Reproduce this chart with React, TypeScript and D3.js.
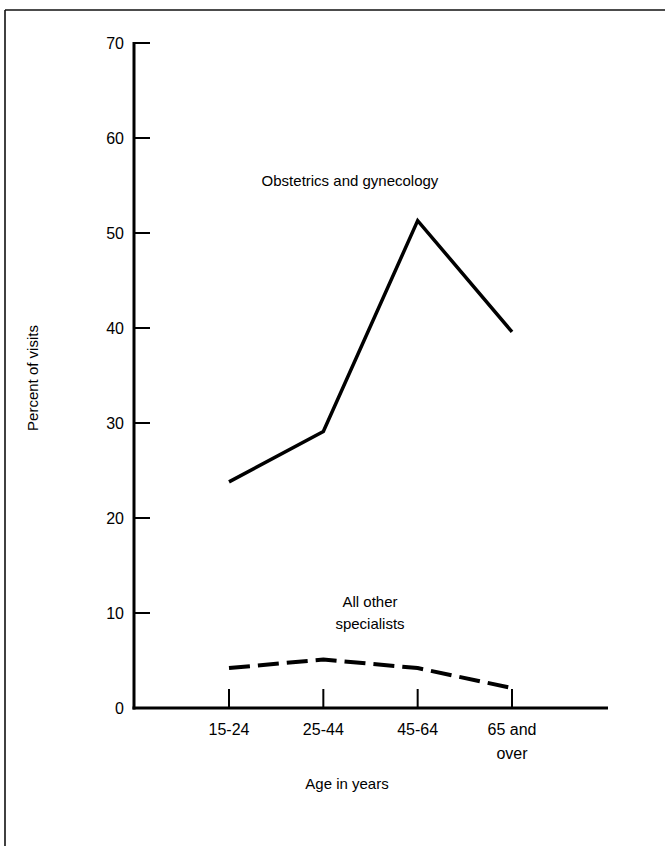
import React, { useEffect, useRef } from "react";
import * as d3 from "d3";

const categories = ["15-24", "25-44", "45-64", "65 and over"];
const categoryLines = [["15-24"], ["25-44"], ["45-64"], ["65 and", "over"]];
const obstetrics = [23.8, 29.1, 51.3, 39.6];
const otherSpecialists = [4.2, 5.1, 4.2, 2.1];
const yTicks = [0, 10, 20, 30, 40, 50, 60, 70];

const W = 665;
const H = 846;
const FONT = "'Liberation Sans', Arial, Helvetica, sans-serif";

export default function App() {
  const ref = useRef<SVGSVGElement>(null);

  useEffect(() => {
    const svg = d3.select(ref.current);
    svg.selectAll("*").remove();

    const x = d3.scalePoint<string>().domain(categories).range([229, 512]);
    const y = d3.scaleLinear().domain([0, 70]).range([708, 43]);
    const axisX0 = 134;

    // frame
    svg.append("line").attr("x1", 5).attr("x2", W).attr("y1", 10).attr("y2", 10)
      .attr("stroke", "#111").attr("stroke-width", 1.6);
    svg.append("line").attr("x1", 5).attr("x2", 5).attr("y1", 10).attr("y2", H)
      .attr("stroke", "#111").attr("stroke-width", 1.6);

    // y axis
    svg.append("line").attr("x1", axisX0).attr("x2", axisX0)
      .attr("y1", y(70) - 1).attr("y2", y(0) + 1.5)
      .attr("stroke", "#000").attr("stroke-width", 3);
    const yt = svg.append("g");
    yTicks.forEach((t) => {
      if (t > 0) {
        yt.append("line").attr("x1", axisX0).attr("x2", axisX0 + 16)
          .attr("y1", y(t)).attr("y2", y(t))
          .attr("stroke", "#000").attr("stroke-width", 2);
      }
      yt.append("text").attr("x", 124).attr("y", y(t)).attr("dy", "0.35em")
        .attr("text-anchor", "end").attr("font-family", FONT).attr("font-size", 16)
        .attr("fill", "#000").text(String(t));
    });

    // x axis
    svg.append("line").attr("x1", axisX0 - 1.5).attr("x2", 608)
      .attr("y1", y(0)).attr("y2", y(0))
      .attr("stroke", "#000").attr("stroke-width", 3);
    categories.forEach((c, i) => {
      const cx = x(c)!;
      svg.append("line").attr("x1", cx).attr("x2", cx)
        .attr("y1", y(0)).attr("y2", y(0) - 19)
        .attr("stroke", "#000").attr("stroke-width", 2);
      const tx = svg.append("text").attr("x", cx).attr("y", 735)
        .attr("text-anchor", "middle").attr("font-family", FONT).attr("font-size", 16)
        .attr("fill", "#000");
      categoryLines[i].forEach((ln, j) => {
        tx.append("tspan").attr("x", cx).attr("dy", j === 0 ? 0 : 24).text(ln);
      });
    });

    // axis titles
    svg.append("text").attr("x", 347).attr("y", 789).attr("text-anchor", "middle")
      .attr("font-family", FONT).attr("font-size", 15).attr("fill", "#000")
      .text("Age in years");
    svg.append("text")
      .attr("transform", "translate(38,378) rotate(-90)")
      .attr("text-anchor", "middle").attr("font-family", FONT).attr("font-size", 15)
      .attr("fill", "#000").text("Percent of visits");

    // lines
    const line = d3.line<number>()
      .x((_, i) => x(categories[i])!)
      .y((d) => y(d));

    svg.append("path").attr("d", line(obstetrics)!)
      .attr("fill", "none").attr("stroke", "#000").attr("stroke-width", 3.5)
      .attr("stroke-linejoin", "miter");
    svg.append("path").attr("d", line(otherSpecialists)!)
      .attr("fill", "none").attr("stroke", "#000").attr("stroke-width", 4)
      .attr("stroke-dasharray", "21 8");

    // annotations
    svg.append("text").attr("x", 350).attr("y", 186).attr("text-anchor", "middle")
      .attr("font-family", FONT).attr("font-size", 15).attr("fill", "#000")
      .text("Obstetrics and gynecology");
    const ann = svg.append("text").attr("x", 370).attr("y", 607).attr("text-anchor", "middle")
      .attr("font-family", FONT).attr("font-size", 15).attr("fill", "#000");
    ann.append("tspan").attr("x", 370).attr("dy", 0).text("All other");
    ann.append("tspan").attr("x", 370).attr("dy", 22).text("specialists");
  }, []);

  return (
    <svg
      ref={ref}
      width={W}
      height={H}
      viewBox={`0 0 ${W} ${H}`}
      style={{ position: "absolute", left: 0, top: 0, background: "#fff" }}
    />
  );
}
